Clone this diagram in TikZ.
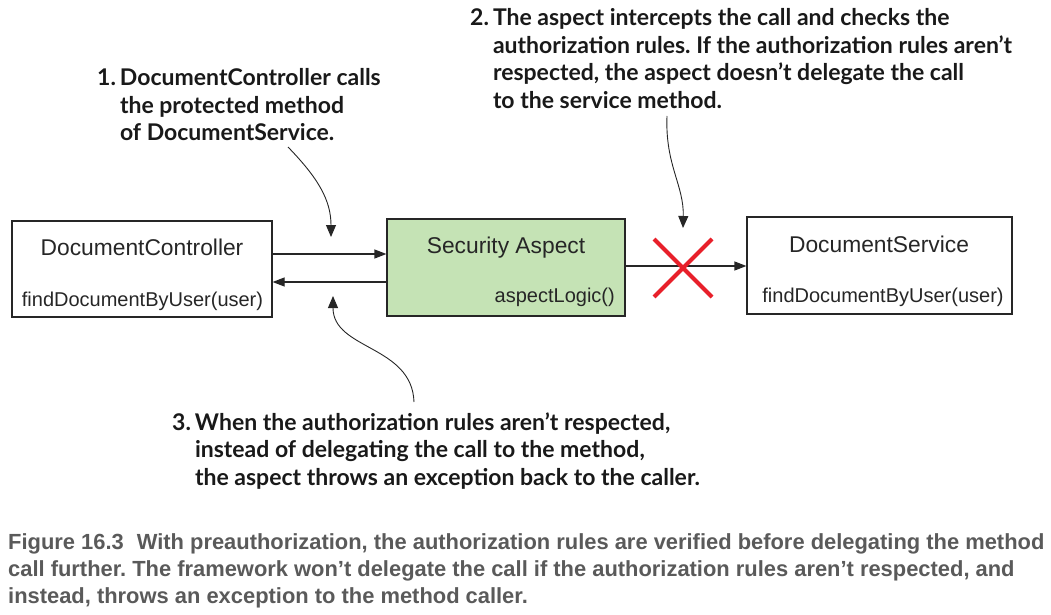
\documentclass[tikz,border=0pt]{standalone}
\usepackage{fontspec}
\setmainfont{Liberation Sans}
\newfontfamily\notefont{Lato}
\newfontfamily\capfont{Liberation Sans}
\usetikzlibrary{arrows.meta,calc}
\definecolor{aspectgreen}{HTML}{C5E3B5}
\definecolor{xred}{HTML}{E8202A}
\definecolor{capgray}{HTML}{5A5A5A}
\frenchspacing
\tikzset{
  box/.style={draw=black!85, line width=1.2pt, rectangle, inner sep=0pt},
  boxtitle/.style={font=\fontsize{22.8}{26}\selectfont, text=black!85, inner sep=0pt},
  boxmethod/.style={font=\fontsize{20}{24}\selectfont, text=black!85, inner sep=0pt},
  arr/.style={line width=1.2pt, draw=black!85, -{Triangle[length=12pt,width=9pt]}},
  callout/.style={line width=0.9pt, draw=black!85, -{Triangle[length=12pt,width=10pt]}},
  note/.style={font=\notefont\bfseries\fontsize{23}{27.5}\selectfont, text=black!90, inner sep=0pt, anchor=base west},
  captext/.style={font=\capfont\bfseries\fontsize{21.9}{27.3}\selectfont, text=capgray, inner sep=0pt, anchor=base west}
}
\begin{document}
\begin{tikzpicture}[x=1pt,y=-1pt]
\useasboundingbox (0,0) rectangle (1051,615);
% boxes
\node[box, minimum width=260pt, minimum height=96pt] (dc) at (142,269) {};
\node[box, fill=aspectgreen, minimum width=238pt, minimum height=97pt] (sa) at (506,267.5) {};
\node[box, minimum width=265pt, minimum height=97pt] (ds) at (879.5,265.5) {};
% box labels
\node[boxtitle, anchor=base] (dct) at (142,255) {DocumentController};
\node[boxmethod, anchor=base] (dcm) at (142.5,306) {findDocumentByUser(user)};
\node[boxtitle, anchor=base] (sat) at (506,253) {Security Aspect};
\node[boxmethod, anchor=base east] (sam) at (615,302) {aspectLogic()};
\node[boxtitle, anchor=base] (dst) at (879,252) {DocumentService};
\node[boxmethod, anchor=base] (dsm) at (883,302) {findDocumentByUser(user)};
% connectors
\coordinate (ya) at (0,254);
\coordinate (yb) at (0,282);
\coordinate (yc) at (0,266);
\draw[arr] (dc.east |- ya) -- (sa.west |- ya);
\draw[arr] (sa.west |- yb) -- (dc.east |- yb);
\draw[arr] (sa.east |- yc) -- (ds.west |- yc);
% red cross
\coordinate (xc) at (683,268);
\draw[xred, line width=4pt] ($(xc)+(-29,-29)$) -- ($(xc)+(29,29)$);
\draw[xred, line width=4pt] ($(xc)+(-29,29)$) -- ($(xc)+(29,-29)$);
% notes
\node[note] (n1) at (97,86) {\begin{tabular}[t]{@{}l@{\hspace{4pt}}l@{}}1. & DocumentController calls\\ & the protected method\\ & of DocumentService.\end{tabular}};
\node[note] (n2) at (470,26) {\begin{tabular}[t]{@{}l@{\hspace{4pt}}l@{}}2. & The aspect intercepts the call and checks the\\ & authorization rules. If the authorization rules aren’t\\ & respected, the aspect doesn’t delegate the call\\ & to the service method.\end{tabular}};
\node[note] (n3) at (172,430) {\begin{tabular}[t]{@{}l@{\hspace{4pt}}l@{}}3. & When the authorization rules aren’t respected,\\ & instead of delegating the call to the method,\\ & the aspect throws an exception back to the caller.\end{tabular}};
% callout arrows
\coordinate (c1s) at (288,147);
\coordinate (c1e) at (331,237);
\coordinate (c2s) at (667,116);
\coordinate (c2e) at (683,228);
\coordinate (c3s) at (414,402);
\coordinate (c3e) at (333,296);
\draw[callout] (c1s) .. controls (318,178) and (331,200) .. (c1e);
\draw[callout] (c2s) .. controls (665,165) and (684,185) .. (c2e);
\draw[callout] (c3s) .. controls (412,345) and (333,350) .. (c3e);
% caption
\node[captext] (capt) at (8,549) {\begin{tabular}[t]{@{}l@{}}Figure 16.3\hspace{13pt}With preauthorization, the authorization rules are verified before delegating the method\\ call further. The framework won’t delegate the call if the authorization rules aren’t respected, and\\ instead, throws an exception to the method caller.\end{tabular}};
\end{tikzpicture}
\end{document}
